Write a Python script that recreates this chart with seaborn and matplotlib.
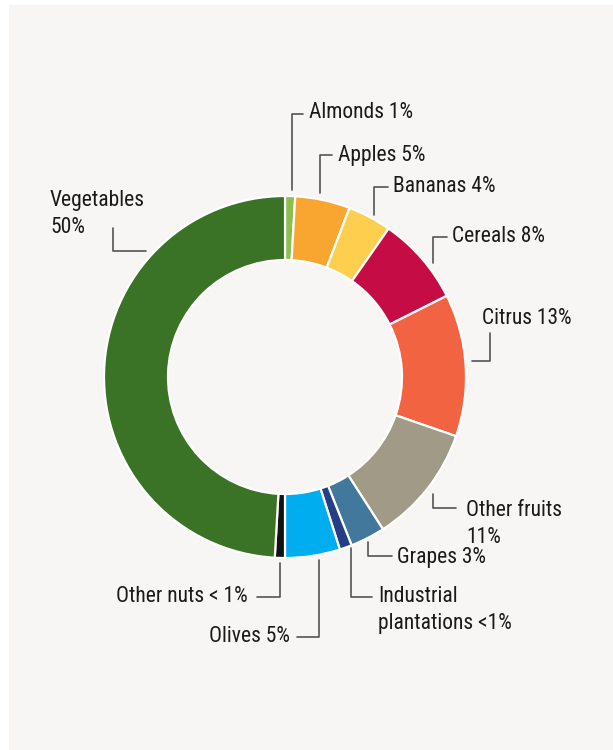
"""Donut chart: share of crop area by crop type."""

import matplotlib.pyplot as plt
from matplotlib import font_manager
from matplotlib.patches import Rectangle
import seaborn as sns

W, H = 613, 750

crops = ["Almonds", "Apples", "Bananas", "Cereals", "Citrus", "Other fruits",
         "Grapes", "Industrial plantations", "Olives", "Other nuts", "Vegetables"]
shares = [0.9, 4.9, 3.9, 7.9, 12.7, 10.6, 3.1, 1.1, 4.9, 0.9, 49.1]
labels = ["Almonds 1%", "Apples 5%", "Bananas 4%", "Cereals 8%", "Citrus 13%",
          "Other fruits\n11%", "Grapes 3%", "Industrial\nplantations <1%",
          "Olives 5%", "Other nuts < 1%", "Vegetables\n50%"]
colors = ["#8cbf4f", "#f9a630", "#fecf4f", "#c60c45", "#f26341", "#a09a87",
          "#43789d", "#253f86", "#00aeef", "#111111", "#3a7226"]

# label anchor (px, y down), alignment, and leader polyline (px)
label_pos = [
    (309, 113, "left"), (338, 155, "left"), (393, 187, "left"), (452, 237, "left"),
    (482, 318, "left"), (466, 524, "left"), (397, 557, "left"), (378, 610, "left"),
    (290, 637, "right"), (248, 597, "right"), (50, 214, "left"),
]
leaders = [
    [(292, 190), (292, 114), (303, 114)],
    [(320, 193), (320, 155), (332, 155)],
    [(374, 215), (374, 187), (388, 187)],
    [(433, 263), (433, 237), (447, 237)],
    [(472, 361), (490, 361), (490, 333)],
    [(433, 494), (433, 508), (456, 508)],
    [(368, 542), (368, 556), (392, 556)],
    [(351, 548), (351, 597), (372, 597)],
    [(319, 560), (319, 637), (297, 637)],
    [(280, 563), (280, 597), (257, 597)],
    [(113, 228), (113, 251), (146, 251)],
]

sns.set_theme(style="white")
installed = {f.name for f in font_manager.fontManager.ttflist}
narrow = [n for n in ("Roboto Condensed", "Liberation Sans Narrow") if n in installed]
plt.rcParams["font.family"] = narrow + ["Roboto", "DejaVu Sans"]
label_size = 15.5 if narrow else 14.6

fig = plt.figure(figsize=(W / 100, H / 100), dpi=100)
fig.patch.set_facecolor("white")
ax = fig.add_axes([0, 0, 1, 1])

ax.add_patch(Rectangle((9, 0), W - 9, H - 5, facecolor="#f7f6f4", edgecolor="none", zorder=0))

ax.pie(
    shares,
    colors=colors,
    radius=181,
    center=(285, H - 377),
    startangle=90,
    counterclock=False,
    wedgeprops=dict(width=64, edgecolor="white", linewidth=1.6),
    frame=True,
)
ax.set_xlim(0, W)
ax.set_ylim(0, H)
ax.set_aspect("equal")
ax.axis("off")

for (x, y, ha), text, pts in zip(label_pos, labels, leaders):
    ax.text(x, H - y, text, ha=ha, va="center", fontsize=label_size, color="#1a1a1a",
            linespacing=1.32, zorder=3)
    xs = [p[0] for p in pts]
    ys = [H - p[1] for p in pts]
    ax.plot(xs, ys, color="#555555", lw=1.2, zorder=3)

fig.savefig("out.png", dpi=100, facecolor=fig.get_facecolor())
